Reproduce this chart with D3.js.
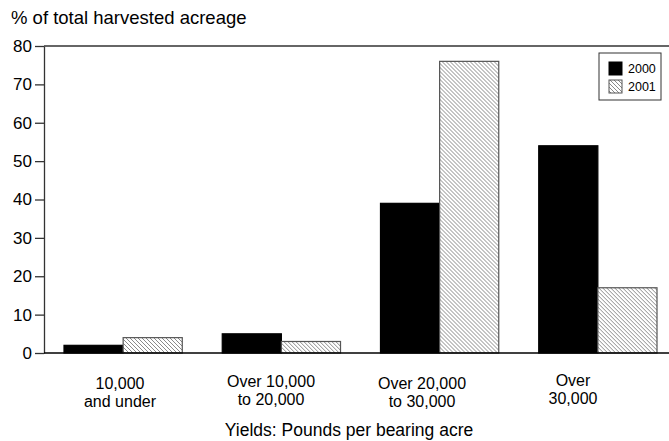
<!DOCTYPE html>
<html>
<head>
<meta charset="utf-8">
<script src="https://cdn.jsdelivr.net/npm/d3@7"></script>
<style>
  body { margin: 0; background: #fff; }
  text { font-family: "Liberation Sans", Arial, sans-serif; fill: #000; }
</style>
</head>
<body>
<script>
// chart data
var categories = [["10,000", "and under"], ["Over 10,000", "to 20,000"], ["Over 20,000", "to 30,000"], ["Over", "30,000"]];
var years = ["2000", "2001"];
var values2000 = [2, 5, 39, 54];
var values2001 = [4, 3, 76, 17];
var yTicks = [0, 10, 20, 30, 40, 50, 60, 70, 80];

var w = 669, h = 441;

var svg = d3.select("body")
    .append("svg")
    .attr("width", w)
    .attr("height", h);

// hatch pattern for 2001
var defs = svg.append("defs");
var pat = defs.append("pattern")
    .attr("id", "hatch")
    .attr("patternUnits", "userSpaceOnUse")
    .attr("width", 4)
    .attr("height", 4);
pat.append("rect").attr("width", 4).attr("height", 4).attr("fill", "#fff");
pat.append("path")
    .attr("d", "M-1,-1 L5,5 M-1,3 L1,5 M3,-1 L5,1")
    .attr("stroke", "#8a8a8a")
    .attr("stroke-width", 1);

var y = d3.scaleLinear()
    .domain([0, 80])
    .range([353, 46]);

var x0 = d3.scaleBand()
    .domain(d3.range(categories.length))
    .range([64, 657])
    .paddingInner(0.2526)
    .paddingOuter(0);

var x1 = d3.scaleBand()
    .domain(years)
    .range([0, x0.bandwidth()]);

// labels sit a bit left of the bar groups in the original
var xLab = d3.scalePoint()
    .domain(d3.range(categories.length))
    .range([120, 573]);

var data = categories.map(function(c, i){
    return {i: i, vals: [values2000[i], values2001[i]]};
});

// bars
var groups = svg.selectAll(".grp")
    .data(data)
    .enter()
    .append("g")
    .attr("class", "grp")
    .attr("transform", function(d){ return "translate(" + x0(d.i) + ",0)"; });

groups.selectAll("rect")
    .data(function(d){ return d.vals.map(function(v, k){ return {year: years[k], v: v}; }); })
    .enter()
    .append("rect")
    .attr("x", function(d){ return x1(d.year); })
    .attr("y", function(d){ return y(d.v); })
    .attr("width", x1.bandwidth())
    .attr("height", function(d){ return y(0) - y(d.v); })
    .attr("fill", function(d){ return d.year == "2000" ? "#000" : "url(#hatch)"; })
    .attr("stroke", function(d){ return d.year == "2000" ? "#000" : "#555"; })
    .attr("stroke-width", 1.2);

// y axis
var yAxis = svg.append("g")
    .attr("transform", "translate(44,0)")
    .call(d3.axisLeft(y).tickValues(yTicks).tickSize(9).tickSizeOuter(0).tickPadding(3));
yAxis.attr("font-size", 17).attr("font-family", "Liberation Sans, Arial, sans-serif");
yAxis.select(".domain").attr("stroke", "#333").attr("stroke-width", 1.3);
yAxis.selectAll(".tick line").attr("stroke", "#333").attr("stroke-width", 1.3);
yAxis.selectAll(".tick text").attr("fill", "#000");

// top and bottom lines
svg.append("line")
    .attr("x1", 44).attr("x2", w)
    .attr("y1", y(80)).attr("y2", y(80))
    .attr("stroke", "#333").attr("stroke-width", 1.3);
svg.append("line")
    .attr("x1", 44).attr("x2", w)
    .attr("y1", y(0)).attr("y2", y(0))
    .attr("stroke", "#000").attr("stroke-width", 1.3);

// category labels
var labs = svg.selectAll(".cat")
    .data(categories)
    .enter()
    .append("text")
    .attr("class", "cat")
    .attr("text-anchor", "middle")
    .attr("font-size", 16)
    .attr("x", function(d, i){ return xLab(i); })
    .attr("y", function(d, i){ return i == 3 ? 386 : (i == 1 ? 387 : 389); });
labs.selectAll("tspan")
    .data(function(d){ return d; })
    .enter()
    .append("tspan")
    .attr("x", function(){ return d3.select(this.parentNode).attr("x"); })
    .attr("dy", function(d, k){ return k == 0 ? 0 : 18; })
    .text(function(d){ return d; });

// titles
svg.append("text")
    .attr("x", 11).attr("y", 24)
    .attr("font-size", 18.5)
    .text("% of total harvested acreage");

svg.append("text")
    .attr("x", 349).attr("y", 436)
    .attr("text-anchor", "middle")
    .attr("font-size", 17.5)
    .text("Yields: Pounds per bearing acre");

// legend
var legend = svg.append("g").attr("transform", "translate(599,53)");
legend.append("rect")
    .attr("width", 62).attr("height", 47)
    .attr("fill", "#fff").attr("stroke", "#333").attr("stroke-width", 1);
legend.selectAll(".sw")
    .data(years)
    .enter()
    .append("rect")
    .attr("class", "sw")
    .attr("x", 10)
    .attr("y", function(d, i){ return 9 + i * 18; })
    .attr("width", 13).attr("height", 13)
    .attr("fill", function(d){ return d == "2000" ? "#000" : "url(#hatch)"; })
    .attr("stroke", function(d){ return d == "2000" ? "#000" : "#555"; });
legend.selectAll(".lt")
    .data(years)
    .enter()
    .append("text")
    .attr("class", "lt")
    .attr("x", 29)
    .attr("y", function(d, i){ return 20 + i * 18; })
    .attr("font-size", 12.5)
    .text(function(d){ return d; });
</script>
</body>
</html>
